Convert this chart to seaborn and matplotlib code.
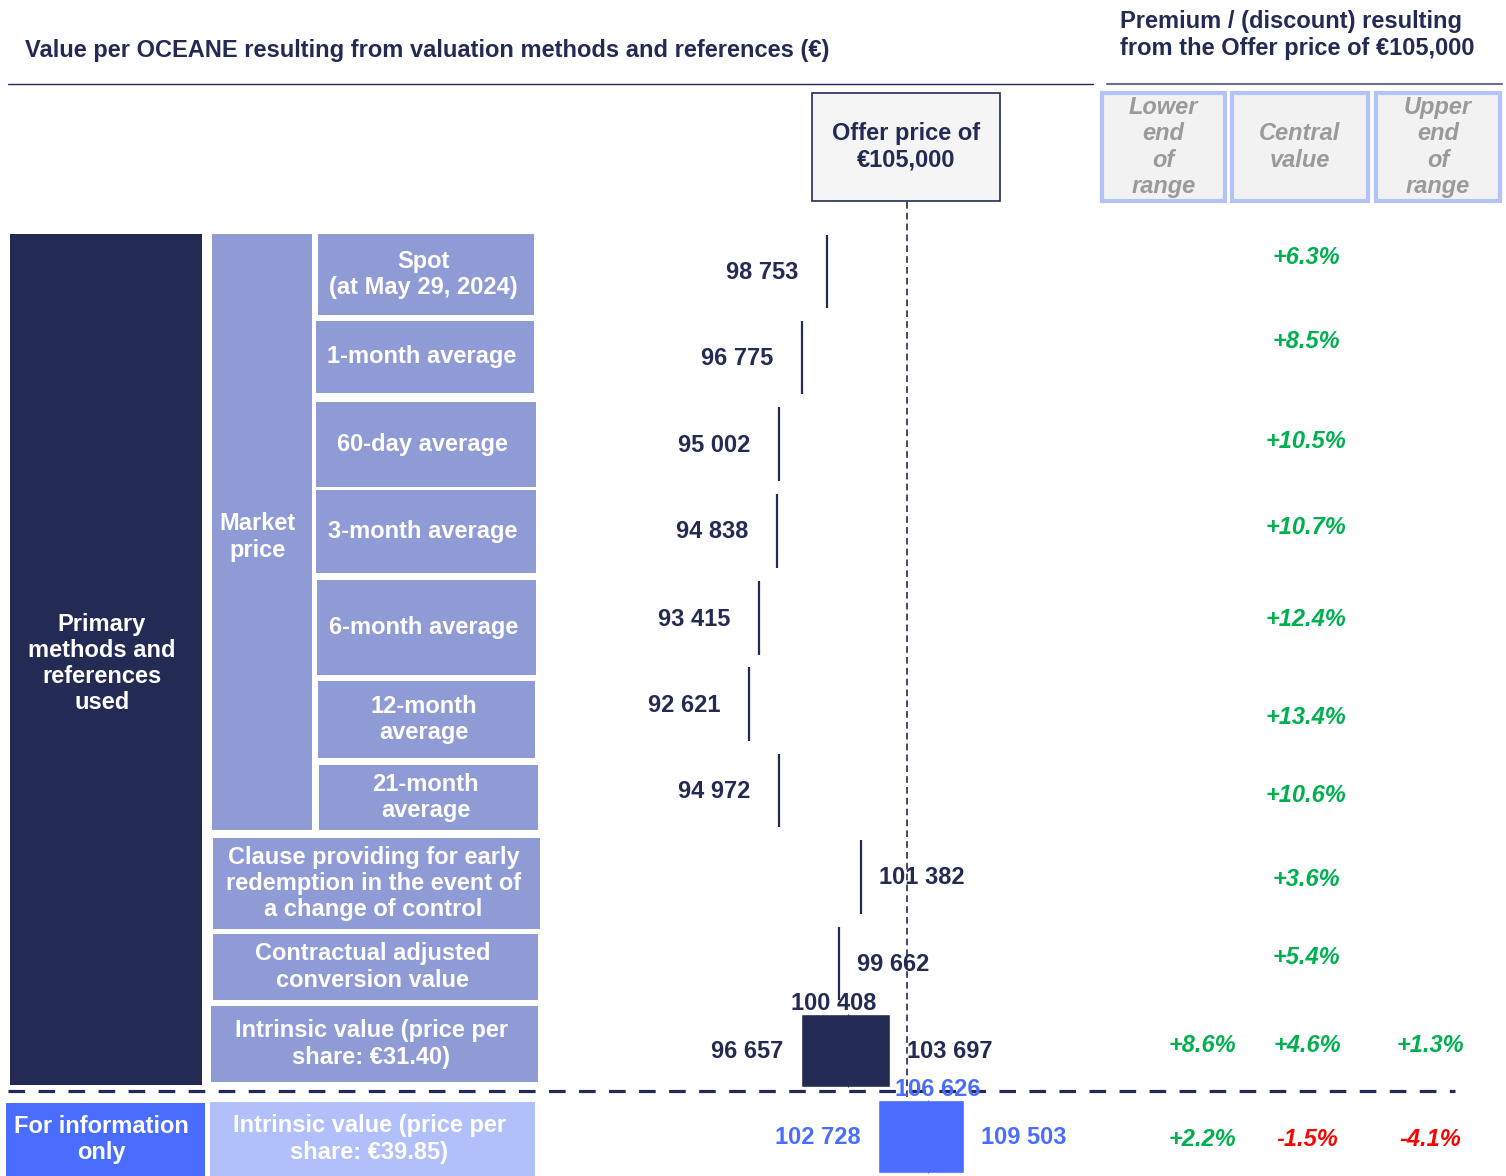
import matplotlib
matplotlib.use("Agg")
import matplotlib.pyplot as plt
from matplotlib.patches import Rectangle
import seaborn as sns

# ---- data ----
offer_price = 105000
market_refs = ["Spot\n(at May 29, 2024)", "1-month average", "60-day average",
               "3-month average", "6-month average", "12-month\naverage",
               "21-month\naverage"]
other_refs = ["Clause providing for early\nredemption in the event of\na change of control",
              "Contractual adjusted\nconversion value"]
point_values = [98753, 96775, 95002, 94838, 93415, 92621, 94972, 101382, 99662]
point_premium = ["+6.3%", "+8.5%", "+10.5%", "+10.7%", "+12.4%", "+13.4%",
                 "+10.6%", "+3.6%", "+5.4%"]

range_refs = ["Intrinsic value (price per\nshare: €31.40)",
              "Intrinsic value (price per\nshare: €39.85)"]
range_low = [96657, 102728]
range_mid = [100408, 106626]
range_high = [103697, 109503]
prem_low = ["+8.6%", "+2.2%"]
prem_mid = ["+4.6%", "-1.5%"]
prem_high = ["+1.3%", "-4.1%"]

col_heads = ["Lower\nend\nof\nrange", "Central\nvalue", "Upper\nend\nof\nrange"]

# ---- layout (pixels) ----
W, H = 1506, 1176
point_rows = [(235, 308), (321, 394), (407, 481), (494, 568), (581, 655),
              (667, 741), (754, 827), (840, 914), (927, 1000)]
prem_y = [258, 341, 442, 528, 620, 717, 796, 880, 958]
market_boxes = [(318, 534, 234, 315), (316, 534, 321, 393), (316, 536, 402, 487),
                (316, 536, 490, 573), (317, 536, 580, 675), (318, 535, 681, 758),
                (319, 538, 765, 830)]
other_boxes = [(213, 540, 838, 929), (213, 538, 934, 1000)]
range_rows = [(1014, 1087), (1100, 1173)]
range_boxes = [(211, 538, 1006, 1082), (210, 535, 1102, 1176)]

navy = "#232B55"
peri = "#8E9BD5"
blue = "#4A6DFF"
light = "#B1C0FA"
green = "#00B050"
red = "#FF0000"

sns.set_theme(style="white")
plt.rcParams["font.family"] = ["Liberation Sans", "DejaVu Sans"]
FS = 17
LS = 1.17

fig = plt.figure(figsize=(W / 100, H / 100), dpi=100)
ax = fig.add_axes([0, 0, 1, 1])
ax.set_xlim(0, W)
ax.set_ylim(H, 0)
ax.axis("off")


def box(x0, x1, y0, y1, fc, txt="", tc="white", ec="none", lw=0, dy=0, dx=0, **kw):
    ax.add_patch(Rectangle((x0, y0), x1 - x0, y1 - y0, fc=fc, ec=ec, lw=lw))
    if txt:
        ax.text((x0 + x1) / 2 + dx, (y0 + y1) / 2 + dy, txt, ha="center", va="center",
                color=tc, fontsize=FS, fontweight="bold", linespacing=LS, **kw)


# titles
ax.text(25, 50, "Value per OCEANE resulting from valuation methods and references (€)",
        ha="left", va="center", color=navy, fontsize=17, fontweight="bold")
ax.text(1120, 35, "Premium / (discount) resulting\nfrom the Offer price of €105,000",
        ha="left", va="center", color=navy, fontsize=17, fontweight="bold",
        linespacing=1.25)
ax.plot([8, 1093], [84, 84], color=navy, lw=1)
ax.plot([1107, 1502], [84, 84], color="#6a6f8a", lw=1.5)

# left side table
box(10, 202, 234, 1085, navy, "Primary\nmethods and\nreferences\nused", dy=4, dx=-4)
box(212, 312, 234, 830, peri, "Market\nprice", dy=5, dx=-4)
for (x0, x1, y0, y1), t in zip(market_boxes, market_refs):
    box(x0, x1, y0, y1, peri, t, dx=-3)
for (x0, x1, y0, y1), t in zip(other_boxes, other_refs):
    box(x0, x1, y0, y1, peri, t, dx=-3)
box(*range_boxes[0], peri, range_refs[0], dx=-3)
box(*range_boxes[1], light, range_refs[1], dx=-3)
box(6, 205, 1103, 1176, blue, "For information\nonly", dx=-4)

# offer box and column headers
box(812, 1000, 93, 201, "#F5F5F5", "Offer price of\n€105,000", tc=navy, ec=navy, lw=1.2)
for (x0, x1), t in zip([(1102, 1225), (1232, 1368), (1376, 1500)], col_heads):
    box(x0, x1, 93, 201, "#F2F2F2", t, tc="#9A9A9A", ec="#B4C2FA", lw=3,
        fontstyle="italic")

# dashed separator
ax.plot([8, 1455], [1091, 1091], color=navy, lw=2.3, ls=(0, (5.2, 4.2)))

# ---- value axes (x in euros) ----
k = 158 / (offer_price - 92621)          # px per euro
left_px, right_px = 540, 1095
axv = fig.add_axes([left_px / W, 0, (right_px - left_px) / W, 1])
axv.set_xlim(offer_price - (907 - left_px) / k, offer_price + (right_px - 907) / k)
axv.set_ylim(H, 0)
axv.axis("off")
axv.patch.set_alpha(0)

axv.vlines(offer_price, 202, H, color=navy, lw=1.2, ls=(0, (4, 2.5)), zorder=1)

for i, (v, (y0, y1)) in enumerate(zip(point_values, point_rows)):
    axv.vlines(v, y0, y1, color=navy, lw=1.6, zorder=3)
    yc = (y0 + y1) / 2 + 1
    lab = f"{v:,}".replace(",", " ")
    if i < 7:
        axv.annotate(lab, (v, yc), xytext=(-29, 0), textcoords="offset pixels",
                     ha="right", va="center", color=navy, fontsize=FS, fontweight="bold")
    else:
        axv.annotate(lab, (v, yc), xytext=(18, 0), textcoords="offset pixels",
                     ha="left", va="center", color=navy, fontsize=FS, fontweight="bold")

for j, (lo, mid, hi, (y0, y1)) in enumerate(zip(range_low, range_mid, range_high, range_rows)):
    c = navy if j == 0 else blue
    axv.barh((y0 + y1) / 2, hi - lo, left=lo, height=y1 - y0, color=c, zorder=2)
    axv.vlines(mid, y0, y1, color=c, lw=0.8, zorder=3)
    yc = (y0 + y1) / 2 + 1
    for val, dx, ha in [(lo, -17, "right"), (hi, 17, "left")]:
        axv.annotate(f"{val:,}".replace(",", " "), (val, yc), xytext=(dx, 0),
                     textcoords="offset pixels", ha=ha, va="center", color=c,
                     fontsize=FS, fontweight="bold")
    axv.annotate(f"{mid:,}".replace(",", " "), (mid, y0), xytext=(-15 if j == 0 else 10, 11),
                 textcoords="offset pixels", ha="center", va="center", color=c,
                 fontsize=FS, fontweight="bold", zorder=5)

# premiums
for p, y in zip(point_premium, prem_y):
    ax.text(1306, y, p, ha="center", va="center", color=green, fontsize=17,
            fontweight="bold", fontstyle="italic")
for j, y in enumerate([1045, 1140]):
    for p, x in zip([prem_low[j], prem_mid[j], prem_high[j]], [1202, 1307, 1430]):
        ax.text(x, y, p, ha="center", va="center",
                color=red if p.startswith("-") else green, fontsize=17,
                fontweight="bold", fontstyle="italic")

fig.savefig("out.png", dpi=100)
